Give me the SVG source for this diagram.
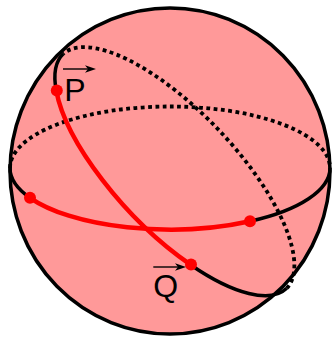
<svg xmlns="http://www.w3.org/2000/svg" width="332" height="342" viewBox="0 0 332 342">
  <style>
    .solid { fill: none; stroke: #000; stroke-width: 3.5; }
    .dotted { fill: none; stroke: #000; stroke-width: 3.8; stroke-dasharray: 3.8 3.5; }
    .red { fill: none; stroke: #ff0000; stroke-width: 4.5; }
    .dot { fill: #ff0000; }
    .label { font-family: "Liberation Sans", Arial, sans-serif; font-size: 32px; fill: #000; }
    .vec { fill: none; stroke: #000; stroke-width: 1.4; }
    .vechead { fill: #000; stroke: none; }
  </style>
  <g id="sphere">
    <ellipse cx="170" cy="171" rx="160" ry="163" fill="#ff9999" stroke="none"/>
  </g>
  <g id="connectors">
    <g id="equator">
      <path class="dotted" d="M 10 168 A 160 61.5 0 0 1 330 168"/>
      <path class="solid" d="M 10 168 A 160 61.5 0 0 0 30 197.8"/>
      <path class="solid" d="M 250 221.3 A 160 61.5 0 0 0 330 168"/>
      <path class="red" d="M 30 197.8 A 160 61.5 0 0 0 250 221.3"/>
    </g>
    <g id="great-circle">
      <path class="dotted" d="M 286.7 288.3 A 162 61 46.4 0 0 63.3 53.7"/>
      <path class="solid" d="M 63.3 53.7 A 162 61 46.4 0 0 56.2 90.4"/>
      <path class="solid" d="M 190.5 264.7 A 162 61 46.4 0 0 286.7 288.3"/>
      <path class="red" d="M 56.2 90.4 A 162 61 46.4 0 0 190.5 264.7"/>
    </g>
  </g>
  <g id="sphere-outline">
    <ellipse cx="170" cy="171" rx="160" ry="163" fill="none" stroke="#000" stroke-width="3.5"/>
  </g>
  <g id="equator-point-left">
    <circle class="dot" cx="30" cy="197.8" r="6"/>
  </g>
  <g id="equator-point-right">
    <circle class="dot" cx="250" cy="221.3" r="6"/>
  </g>
  <g id="point-P">
    <circle class="dot" cx="56.8" cy="90.6" r="6"/>
    <text class="label" x="64.3" y="100.5">P</text>
    <path class="vec" d="M 63 69 H 90"/>
    <path class="vechead" d="M 96 69 L 85 65.2 L 88 69 L 85 72.8 Z"/>
  </g>
  <g id="point-Q">
    <circle class="dot" cx="191" cy="264.5" r="6"/>
    <text class="label" x="153.3" y="296.5">Q</text>
    <path class="vec" d="M 153.3 267 H 180"/>
    <path class="vechead" d="M 186 267 L 175 263.2 L 178 267 L 175 270.8 Z"/>
  </g>
</svg>
